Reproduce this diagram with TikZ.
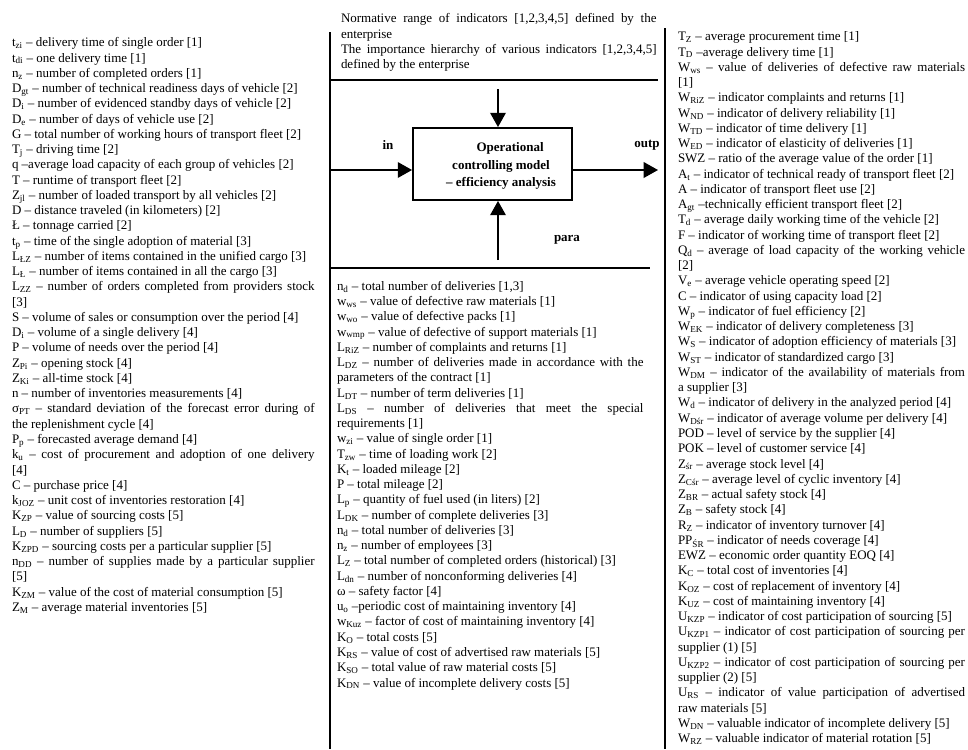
\documentclass[tikz,border=0pt]{standalone}
\usepackage{fontspec}
\setmainfont{Liberation Serif}
\usetikzlibrary{arrows.meta}
\newcommand{\sbs}[1]{\textsubscript{#1}}
\newcommand{\itm}{\par\strut}
\newcommand{\colfont}{\fontsize{10}{11.75}\selectfont\parindent=0pt\parskip=0pt\hyphenpenalty=10000\exhyphenpenalty=10000\emergencystretch=0pt}
\begin{document}
\begin{tikzpicture}[x=0.77pt,y=-0.77pt,
  col/.style={anchor=north west, inner sep=0pt, outer sep=0pt, align=justify, font=\colfont},
  rule/.style={line width=1.5pt},
  arr/.style={line width=1.3pt, -{Triangle[length=11pt,width=12pt]}},
  lab/.style={font=\bfseries\fontsize{10}{13.5}\selectfont, inner sep=0pt}]
\useasboundingbox (0,0) rectangle (968,749);

% ---- left column
\node[col, text width=233pt] (left) at (12,31.5) {%
\itm t\sbs{zi} – delivery time of single order [1]
\itm t\sbs{di} – one delivery time [1]
\itm n\sbs{z} – number of completed orders [1]
\itm D\sbs{gt} – number of technical readiness days of vehicle [2]
\itm D\sbs{i} – number of evidenced standby days of vehicle [2]
\itm D\sbs{e} – number of days of vehicle use [2]
\itm G – total number of working hours of transport fleet [2]
\itm T\sbs{j} – driving time [2]
\itm q –average load capacity of each group of vehicles [2]
\itm T – runtime of transport fleet [2]
\itm Z\sbs{jl} – number of loaded transport by all vehicles [2]
\itm D – distance traveled (in kilometers) [2]
\itm Ł – tonnage carried [2]
\itm t\sbs{p} – time of the single adoption of material [3]
\itm L\sbs{ŁZ} – number of items contained in the unified cargo [3]
\itm L\sbs{Ł} – number of items contained in all the cargo [3]
\itm L\sbs{ZZ} – number of orders completed from providers stock\linebreak{}[3]
\itm S – volume of sales or consumption over the period [4]
\itm D\sbs{i} – volume of a single delivery [4]
\itm P – volume of needs over the period [4]
\itm Z\sbs{Pi} – opening stock [4]
\itm Z\sbs{Ki} – all-time stock [4]
\itm n – number of inventories measurements [4]
\itm σ\sbs{PT} – standard deviation of the forecast error during of\linebreak{}the replenishment cycle [4]
\itm P\sbs{p} – forecasted average demand [4]
\itm k\sbs{u} – cost of procurement and adoption of one delivery\linebreak{}[4]
\itm C – purchase price [4]
\itm k\sbs{JOZ} – unit cost of inventories restoration [4]
\itm K\sbs{ZP} – value of sourcing costs [5]
\itm L\sbs{D} – number of suppliers [5]
\itm K\sbs{ZPD} – sourcing costs per a particular supplier [5]
\itm n\sbs{DD} – number of supplies made by a particular supplier\linebreak{}[5]
\itm K\sbs{ZM} – value of the cost of material consumption [5]
\itm Z\sbs{M} – average material inventories [5]\par};

% ---- top text
\node[col, text width=243pt] (top) at (341,7.5) {%
\itm Normative range of indicators [1,2,3,4,5] defined by the\linebreak{}enterprise
\itm The importance hierarchy of various indicators [1,2,3,4,5]\linebreak{}defined by the enterprise\par};

% ---- middle column
\node[col, text width=236pt] (mid) at (337,275) {%
\itm n\sbs{d} – total number of deliveries [1,3]
\itm w\sbs{ws} – value of defective raw materials [1]
\itm w\sbs{wo} – value of defective packs [1]
\itm w\sbs{wmp} – value of defective of support materials [1]
\itm L\sbs{RiZ} – number of complaints and returns [1]
\itm L\sbs{DZ} – number of deliveries made in accordance with the\linebreak{}parameters of the contract [1]
\itm L\sbs{DT} – number of term deliveries [1]
\itm L\sbs{DS} – number of deliveries that meet the special\linebreak{}requirements [1]
\itm w\sbs{zi} – value of single order [1]
\itm T\sbs{zw} – time of loading work [2]
\itm K\sbs{t} – loaded mileage [2]
\itm P – total mileage [2]
\itm L\sbs{p} – quantity of fuel used (in liters) [2]
\itm L\sbs{DK} – number of complete deliveries [3]
\itm n\sbs{d} – total number of deliveries [3]
\itm n\sbs{z} – number of employees [3]
\itm L\sbs{Z} – total number of completed orders (historical) [3]
\itm L\sbs{dn} – number of nonconforming deliveries [4]
\itm ω – safety factor [4]
\itm u\sbs{o} –periodic cost of maintaining inventory [4]
\itm w\sbs{Kuz} – factor of cost of maintaining inventory [4]
\itm K\sbs{O} – total costs [5]
\itm K\sbs{RS} – value of cost of advertised raw materials [5]
\itm K\sbs{SO} – total value of raw material costs [5]
\itm K\sbs{DN} – value of incomplete delivery costs [5]\par};

% ---- right column
\node[col, text width=221pt] (right) at (678,25.5) {%
\itm T\sbs{Z} – average procurement time [1]
\itm T\sbs{D} –average delivery time [1]
\itm W\sbs{ws} – value of deliveries of defective raw materials\linebreak{}[1]
\itm W\sbs{RiZ} – indicator complaints and returns [1]
\itm W\sbs{ND} – indicator of delivery reliability [1]
\itm W\sbs{TD} – indicator of time delivery [1]
\itm W\sbs{ED} – indicator of elasticity of deliveries [1]
\itm SWZ – ratio of the average value of the order [1]
\itm A\sbs{t} – indicator of technical ready of transport fleet [2]
\itm A – indicator of transport fleet use [2]
\itm A\sbs{gt} –technically efficient transport fleet [2]
\itm T\sbs{d} – average daily working time of the vehicle [2]
\itm F – indicator of working time of transport fleet [2]
\itm Q\sbs{d} – average of load capacity of the working vehicle\linebreak{}[2]
\itm V\sbs{e} – average vehicle operating speed [2]
\itm C – indicator of using capacity load [2]
\itm W\sbs{p} – indicator of fuel efficiency [2]
\itm W\sbs{EK} – indicator of delivery completeness [3]
\itm W\sbs{S} – indicator of adoption efficiency of materials [3]
\itm W\sbs{ST} – indicator of standardized cargo [3]
\itm W\sbs{DM} – indicator of the availability of materials from\linebreak{}a supplier [3]
\itm W\sbs{d} – indicator of delivery in the analyzed period [4]
\itm W\sbs{Dśr} – indicator of average volume per delivery [4]
\itm POD – level of service by the supplier [4]
\itm POK – level of customer service [4]
\itm Z\sbs{śr} – average stock level [4]
\itm Z\sbs{Cśr} – average level of cyclic inventory [4]
\itm Z\sbs{BR} – actual safety stock [4]
\itm Z\sbs{B} – safety stock [4]
\itm R\sbs{Z} – indicator of inventory turnover [4]
\itm PP\sbs{ŚR} – indicator of needs coverage [4]
\itm EWZ – economic order quantity EOQ [4]
\itm K\sbs{C} – total cost of inventories [4]
\itm K\sbs{OZ} – cost of replacement of inventory [4]
\itm K\sbs{UZ} – cost of maintaining inventory [4]
\itm U\sbs{KZP} – indicator of cost participation of sourcing [5]
\itm U\sbs{KZP1} – indicator of cost participation of sourcing per\linebreak{}supplier (1) [5]
\itm U\sbs{KZP2} – indicator of cost participation of sourcing per\linebreak{}supplier (2) [5]
\itm U\sbs{RS} – indicator of value participation of advertised\linebreak{}raw materials [5]
\itm W\sbs{DN} – valuable indicator of incomplete delivery [5]
\itm W\sbs{RZ} – valuable indicator of material rotation [5]\par};

% ---- frame lines
\coordinate (L1) at (330,32);  \coordinate (L2) at (330,749);
\coordinate (R1) at (665,28);  \coordinate (R2) at (665,749);
\coordinate (T1) at (330,80);  \coordinate (T2) at (658,80);
\coordinate (B1) at (330,268); \coordinate (B2) at (650,268);
\draw[rule] (L1) -- (L2);
\draw[rule] (R1) -- (R2);
\draw[rule] (T1) -- (T2);
\draw[rule] (B1) -- (B2);

% ---- central box
\node[draw, line width=1.5pt, minimum width=122.4pt, minimum height=55.4pt, inner sep=0pt] (box) at (492.5,164) {};
\node[lab, align=center] (boxtext) at (501,166) {\hspace*{14pt}Operational\\controlling model\\– efficiency analysis};

% ---- arrows
\coordinate (inL) at (330,170);
\coordinate (outR) at (658,170);
\coordinate (topA) at (498,89);
\coordinate (botA) at (498,260);
\draw[arr] (inL) -- (inL -| box.west);
\draw[arr] (outR -| box.east) -- (outR);
\draw[arr] (topA) -- (topA |- box.north);
\draw[arr] (botA) -- (botA |- box.south);

% ---- labels
\node[lab] (in) at (388,145) {in};
\node[lab] (outp) at (647,145) {outp};
\node[lab] (para) at (567,240) {para};
\end{tikzpicture}
\end{document}
